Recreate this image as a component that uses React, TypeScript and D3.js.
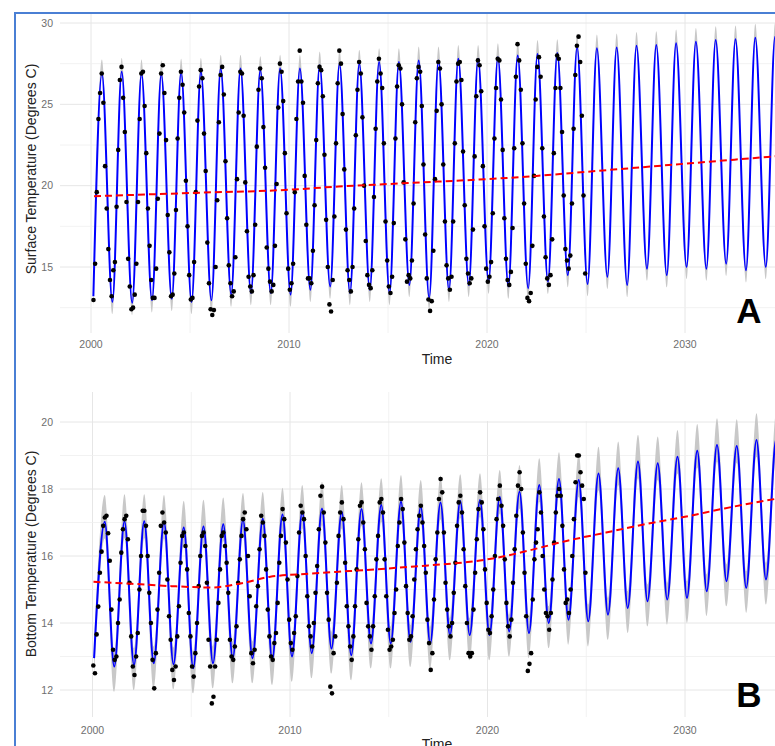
import React from "react";
import * as d3 from "d3";

// ---------------- DATA ----------------
// Fitted seasonal model: yearly peak and trough values (blue line)
const fitYears = [2000,2001,2002,2003,2004,2005,2006,2007,2008,2009,2010,2011,2012,2013,2014,2015,2016,2017,2018,2019,2020,2021,2022,2023,2024,2025,2026,2027,2028,2029,2030,2031,2032,2033,2034,2035];

const surfacePeaks = [26.9,27.0,26.9,26.85,26.95,27.0,27.2,27.2,27.1,27.2,27.2,27.4,27.5,27.5,27.6,27.6,27.7,27.7,27.8,27.8,27.9,28.0,28.1,28.15,28.5,28.45,28.5,28.6,28.65,28.75,28.85,28.95,29.0,29.1,29.15,29.2];
const surfaceTroughs = [13.2,12.85,12.8,12.95,13.05,12.85,12.95,13.3,13.4,13.4,13.3,13.6,13.8,13.4,13.6,13.4,13.9,13.1,13.6,13.9,14.1,13.8,13.7,14.1,14.5,13.95,14.4,13.9,14.9,14.5,15.0,14.9,15.2,14.8,15.0,15.1,15.2];

const bottomPeaks = [17.02,17.04,17.04,17.02,16.85,16.88,16.95,17.08,17.11,17.24,17.32,17.42,17.32,17.4,17.52,17.62,17.47,17.6,17.64,17.67,17.77,17.92,18.12,18.3,18.27,18.46,18.62,18.82,18.77,18.96,19.14,19.31,19.28,19.46,19.5,19.55];
const bottomTroughs = [12.95,12.7,12.75,12.8,12.77,12.65,12.8,12.95,12.95,12.9,13.0,13.1,13.24,13.04,13.39,13.39,13.44,13.39,13.64,13.64,13.64,13.75,13.7,14.0,14.1,14.05,14.25,14.45,14.65,14.7,14.75,14.95,15.25,15.05,15.3,15.35,15.4];

// Confidence band offsets (above / below) at peaks and troughs
const surfaceBand = { peakUp: 0.85, peakDown: 0.25, troughUp: 0.25, troughDown: 0.75 };
const bottomBand = { peakUp: 0.8, peakDown: 0.5, troughUp: 0.5, troughDown: 0.75 };

// Long-term trend (red dashed)
const surfaceTrendT = [2000.15,2005,2010,2012.5,2015,2017.5,2020,2022.5,2025,2027.5,2030,2032.5,2036];
const surfaceTrendV = [19.35,19.55,19.75,19.95,20.1,20.25,20.4,20.6,20.85,21.1,21.35,21.6,21.95];
const bottomTrendT = [2000.05,2002,2004,2006,2007.5,2009,2011,2013,2015,2017,2019,2020.5,2022,2024,2026,2028,2030,2032,2036];
const bottomTrendV = [15.23,15.17,15.1,15.06,15.18,15.38,15.47,15.55,15.63,15.72,15.82,15.95,16.15,16.45,16.7,16.95,17.17,17.42,17.85];

// Monthly observations (Jan..Dec), 2000-2024
const obsYears = [2000,2001,2002,2003,2004,2005,2006,2007,2008,2009,2010,2011,2012,2013,2014,2015,2016,2017,2018,2019,2020,2021,2022,2023,2024];

const surfaceObs: (number | null)[][] = [
  [null,12.97,15.2,19.6,24.1,25.7,26.9,25.1,21.2,18.6,16.1,14.2],
  [13.2,14.8,15.3,18.7,22.2,26.5,27.3,25.4,23.3,19.0,15.5,13.8],
  [12.4,12.5,13.3,15.2,19.0,24.1,26.9,27.0,24.9,22.0,18.6,16.3],
  [14.2,13.1,13.1,14.9,19.2,23.2,26.9,27.4,25.7,22.8,18.2,15.9],
  [13.2,13.3,14.6,18.5,22.9,25.4,27.0,26.2,24.5,20.3,17.5,14.5],
  [13.0,13.1,15.3,19.6,24.0,26.1,27.1,26.6,23.2,20.9,16.5,14.0],
  [12.4,12.05,12.35,15.0,19.1,23.9,26.8,27.3,25.6,21.5,18.0,15.1],
  [14.0,13.2,13.5,15.6,20.4,24.5,27.0,26.9,24.3,20.2,17.2,14.4],
  [13.8,13.5,14.5,17.6,22.4,25.9,27.2,26.6,23.6,21.1,16.2,14.9],
  [14.1,13.5,13.9,16.3,20.1,24.8,27.5,27.0,25.2,22.0,18.3,14.9],
  [13.6,14.0,15.2,19.6,24.1,26.4,28.3,26.4,25.1,20.6,17.6,14.3],
  [14.3,14.0,16.0,18.8,22.8,26.3,27.3,27.1,25.5,21.9,17.9,15.0],
  [12.7,12.26,14.2,18.1,22.6,26.3,28.3,27.5,24.4,21.0,17.3,14.8],
  [14.2,13.5,15.0,18.6,23.1,25.9,27.6,26.9,24.2,20.0,16.6,14.5],
  [13.9,13.7,14.8,19.3,23.5,26.4,27.8,26.9,26.0,22.6,17.8,15.4],
  [13.8,13.4,14.4,17.7,22.9,26.1,27.4,27.2,25.0,20.2,16.7,14.1],
  [14.5,14.3,15.4,18.9,23.9,26.6,27.3,27.0,24.9,21.3,17.0,14.3],
  [13.0,12.3,12.9,16.0,20.4,24.6,27.6,27.2,25.0,21.3,17.8,15.1],
  [14.3,13.6,14.4,17.8,22.6,26.4,27.5,27.6,26.5,22.1,18.8,15.5],
  [14.6,14.0,14.3,17.3,21.8,25.5,27.7,27.4,25.8,21.2,17.5,14.9],
  [14.1,14.4,15.3,18.3,22.9,26.0,27.8,27.7,25.3,22.2,18.0,15.5],
  [14.2,13.9,14.7,17.4,22.3,26.7,28.7,27.7,25.9,22.6,18.9,15.2],
  [13.1,12.9,13.4,16.3,20.6,25.3,27.3,27.9,26.7,22.3,18.1,15.6],
  [14.3,13.9,14.5,16.7,22.0,26.0,28.0,27.8,26.0,23.3,19.4,16.1],
  [15.4,14.9,15.7,18.9,23.5,26.8,28.6,29.16,27.6,24.3,19.4,14.6],
];

const bottomObs: (number | null)[][] = [
  [12.73,12.5,13.66,14.49,15.5,16.13,16.9,17.15,17.2,16.68,15.86,14.4],
  [13.2,12.9,13.0,14.0,14.7,16.1,16.8,17.1,17.2,16.5,15.2,13.6],
  [12.7,12.45,13.0,13.7,15.0,16.0,17.35,17.35,16.9,16.0,14.9,14.0],
  [12.9,12.05,13.1,14.4,15.5,16.9,17.3,17.0,16.7,15.3,14.2,13.5],
  [12.6,12.3,12.7,13.6,14.5,15.8,16.6,16.7,16.3,15.6,14.3,13.6],
  [12.7,12.4,13.1,14.0,15.1,16.0,16.6,16.7,16.3,15.2,13.5,12.7],
  [11.6,11.8,12.7,13.5,14.6,15.6,16.6,16.7,16.3,15.8,14.9,13.5],
  [13.0,12.9,13.3,13.9,15.2,15.9,16.6,17.1,17.3,16.8,16.0,14.8],
  [13.1,12.8,13.2,14.5,15.1,16.2,17.2,17.0,16.6,15.6,14.4,13.6],
  [13.0,12.9,13.4,13.7,14.6,15.8,16.6,17.4,17.1,16.4,15.3,14.1],
  [13.4,13.2,13.7,14.2,15.4,16.7,17.5,17.3,17.1,16.0,14.8,13.9],
  [13.6,13.3,14.0,14.9,15.7,16.8,17.8,18.07,17.3,16.4,14.9,14.1],
  [12.1,11.9,13.1,13.6,15.2,16.6,17.3,17.6,17.1,15.8,14.5,13.9],
  [13.3,12.9,13.6,14.5,15.6,16.5,17.5,17.6,17.0,16.2,14.6,13.9],
  [13.6,13.2,13.9,14.8,15.9,16.6,17.6,17.7,17.3,15.9,14.8,13.8],
  [13.2,13.3,13.5,14.3,15.0,16.3,17.0,17.7,17.4,16.4,15.1,14.3],
  [13.5,13.6,14.2,15.3,16.2,16.8,17.2,17.5,17.0,16.3,15.5,14.1],
  [13.4,12.6,13.1,14.7,15.9,16.7,17.7,18.3,17.9,16.7,15.2,14.4],
  [13.9,13.6,14.0,14.9,15.8,16.9,17.6,17.8,17.3,16.2,15.1,14.0],
  [13.1,13.0,13.1,14.4,15.5,16.5,17.4,17.9,17.6,16.8,15.6,14.6],
  [13.8,13.7,14.2,15.0,16.0,17.1,17.7,18.1,17.5,16.9,15.9,14.6],
  [13.9,13.6,14.1,15.2,16.2,17.2,18.1,18.5,18.0,16.7,15.5,14.2],
  [12.57,12.78,13.1,14.7,15.9,16.4,16.8,17.9,17.3,16.0,15.0,14.3],
  [14.2,13.8,14.3,15.3,16.4,17.3,17.8,18.0,17.8,16.9,15.6,14.6],
  [14.7,14.3,15.0,16.0,17.1,18.2,19.0,19.0,18.5,18.1,17.7,15.5],
];

// Axis ticks
const xMajorTicks = [2000, 2010, 2020, 2030];
const xMinorTicks = [2005, 2015, 2025, 2035];
const surfaceYMajor = [15, 20, 25, 30];
const surfaceYMinor = [12.5, 17.5, 22.5, 27.5];
const bottomYMajor = [12, 14, 16, 18, 20];
const bottomYMinor = [13, 15, 17, 19];

// ---------------- HELPERS ----------------
type Knot = { t: number; v: number; peak: boolean };

function fitKnots(peaks: number[], troughs: number[], startT: number, peakPhase: number, troughPhase: number): Knot[] {
  const k: Knot[] = [{ t: startT, v: troughs[0], peak: false }];
  fitYears.forEach((yr, i) => {
    k.push({ t: yr + peakPhase, v: peaks[i], peak: true });
    k.push({ t: yr + 1 + troughPhase, v: troughs[i + 1], peak: false });
  });
  return k;
}

function obsPoints(obs: (number | null)[][]) {
  const pts: { t: number; v: number }[] = [];
  obs.forEach((row, i) => {
    row.forEach((v, m) => {
      if (v != null) pts.push({ t: obsYears[i] + (m + 0.5) / 12, v });
    });
  });
  return pts;
}

const FONT = "'Liberation Sans', Arial, Helvetica, sans-serif";

type PanelCfg = {
  id: string;
  top: number;
  bottom: number;
  left: number;
  right: number;
  x: d3.ScaleLinear<number, number>;
  y: d3.ScaleLinear<number, number>;
  yMajor: number[];
  yMinor: number[];
  knots: Knot[];
  band: { peakUp: number; peakDown: number; troughUp: number; troughDown: number };
  trendT: number[];
  trendV: number[];
  obs: { t: number; v: number }[];
  yTitle: string;
  yTitleY: number;
  xTickY: number;
  timeY: number;
  letter: string;
  letterY: number;
  cover?: boolean;
};

function Panel({ c }: { c: PanelCfg }) {
  const { x, y } = c;
  const line = d3.line<Knot>().x(d => x(d.t)).y(d => y(d.v)).curve(d3.curveMonotoneX);
  const area = d3
    .area<Knot>()
    .x(d => x(d.t))
    .y0(d => y(d.peak ? d.v - c.band.peakDown : d.v - c.band.troughDown))
    .y1(d => y(d.peak ? d.v + c.band.peakUp : d.v + c.band.troughUp))
    .curve(d3.curveMonotoneX);
  const trend = d3
    .line<number>()
    .x((_, i) => x(c.trendT[i]))
    .y(d => y(d))
    .curve(d3.curveMonotoneX);

  const vx = [...xMajorTicks.map(t => ({ t, major: true })), ...xMinorTicks.map(t => ({ t, major: false }))].filter(
    d => x(d.t) >= c.left && x(d.t) <= c.right
  );
  const hy = [...c.yMajor.map(v => ({ v, major: true })), ...c.yMinor.map(v => ({ v, major: false }))].filter(
    d => y(d.v) >= c.top && y(d.v) <= c.bottom
  );

  return (
    <g>
      <defs>
        <clipPath id={`clip-${c.id}`}>
          <rect x={c.left} y={c.top} width={c.right - c.left} height={c.bottom - c.top} />
        </clipPath>
      </defs>
      {vx.map(d => (
        <line
          key={`vx${d.t}`}
          x1={x(d.t)}
          x2={x(d.t)}
          y1={c.top}
          y2={c.bottom}
          stroke={d.major ? "#e6e6e6" : "#efefef"}
          strokeWidth={d.major ? 1 : 0.8}
        />
      ))}
      {c.cover && <rect x={452} y={c.top - 4} width={330} height={y(20) - c.top + 3} fill="#fff" />}
      {hy.map(d => (
        <line
          key={`hy${d.v}`}
          x1={c.left}
          x2={c.right}
          y1={y(d.v)}
          y2={y(d.v)}
          stroke={d.major ? "#e6e6e6" : "#efefef"}
          strokeWidth={d.major ? 1 : 0.8}
        />
      ))}
      <g clipPath={`url(#clip-${c.id})`}>
        <path d={area(c.knots) || ""} fill="#c8c8c8" />
        <path d={line(c.knots) || ""} fill="none" stroke="#0000ff" strokeWidth={2} />
        {c.obs.map((p, i) => (
          <circle key={i} cx={x(p.t)} cy={y(p.v)} r={2.3} fill="#000" />
        ))}
        <path d={trend(c.trendV) || ""} fill="none" stroke="#ff0000" strokeWidth={2} strokeDasharray="7,4" />
      </g>
      {c.yMajor
        .filter(v => y(v) >= c.top && y(v) <= c.bottom)
        .map(v => (
          <text key={`yl${v}`} x={53} y={y(v)} dy="0.35em" textAnchor="end" fontSize={10.5} fill="#6e6e6e" fontFamily={FONT}>
            {v}
          </text>
        ))}
      {xMajorTicks
        .filter(t => x(t) >= c.left && x(t) <= c.right)
        .map(t => (
          <text key={`xl${t}`} x={x(t)} y={c.xTickY} textAnchor="middle" fontSize={10.5} fill="#6e6e6e" fontFamily={FONT}>
            {t}
          </text>
        ))}
      <text
        transform={`translate(36, ${c.yTitleY}) rotate(-90)`}
        textAnchor="middle"
        fontSize={14}
        fill="#222"
        fontFamily={FONT}
      >
        {c.yTitle}
      </text>
      <text x={437} y={c.timeY} textAnchor="middle" fontSize={14} fill="#222" fontFamily={FONT}>
        Time
      </text>
      <text x={749} y={c.letterY} textAnchor="middle" fontSize={35} fontWeight="bold" fill="#000" fontFamily={FONT}>
        {c.letter}
      </text>
    </g>
  );
}

export default function App() {
  const W = 775;
  const H = 746;

  const panelA: PanelCfg = {
    id: "A",
    top: 14,
    bottom: 333,
    left: 60,
    right: W,
    x: d3.scaleLinear().domain([2000, 2030]).range([91, 685]),
    y: d3.scaleLinear().domain([15, 30]).range([267, 23]),
    yMajor: surfaceYMajor,
    yMinor: surfaceYMinor,
    knots: fitKnots(surfacePeaks, surfaceTroughs, 2000.12, 0.55, 0.08),
    band: surfaceBand,
    trendT: surfaceTrendT,
    trendV: surfaceTrendV,
    obs: obsPoints(surfaceObs),
    yTitle: "Surface Temperature (Degrees C)",
    yTitleY: 169,
    xTickY: 348,
    timeY: 364,
    letter: "A",
    letterY: 323,
  };

  const panelB: PanelCfg = {
    id: "B",
    top: 392,
    bottom: 717,
    left: 60,
    right: W,
    x: d3.scaleLinear().domain([2000, 2030]).range([92.5, 685]),
    y: d3.scaleLinear().domain([12, 20]).range([690, 422]),
    yMajor: bottomYMajor,
    yMinor: bottomYMinor,
    knots: fitKnots(bottomPeaks, bottomTroughs, 2000.08, 0.62, 0.1),
    band: bottomBand,
    trendT: bottomTrendT,
    trendV: bottomTrendV,
    obs: obsPoints(bottomObs),
    yTitle: "Bottom Temperature (Degrees C)",
    yTitleY: 554,
    xTickY: 734,
    timeY: 749,
    letter: "B",
    letterY: 707,
    cover: true,
  };

  return (
    <svg
      width={W}
      height={H}
      viewBox={`0 0 ${W} ${H}`}
      style={{ position: "absolute", left: 0, top: 0, display: "block", background: "#fff" }}
    >
      <rect x={0} y={0} width={W} height={H} fill="#fff" />
      <Panel c={panelA} />
      <Panel c={panelB} />
      <line x1={15} x2={15} y1={12} y2={H} stroke="#4a7fd4" strokeWidth={2} />
      <line x1={14} x2={W} y1={13} y2={13} stroke="#4a7fd4" strokeWidth={2} />
    </svg>
  );
}
